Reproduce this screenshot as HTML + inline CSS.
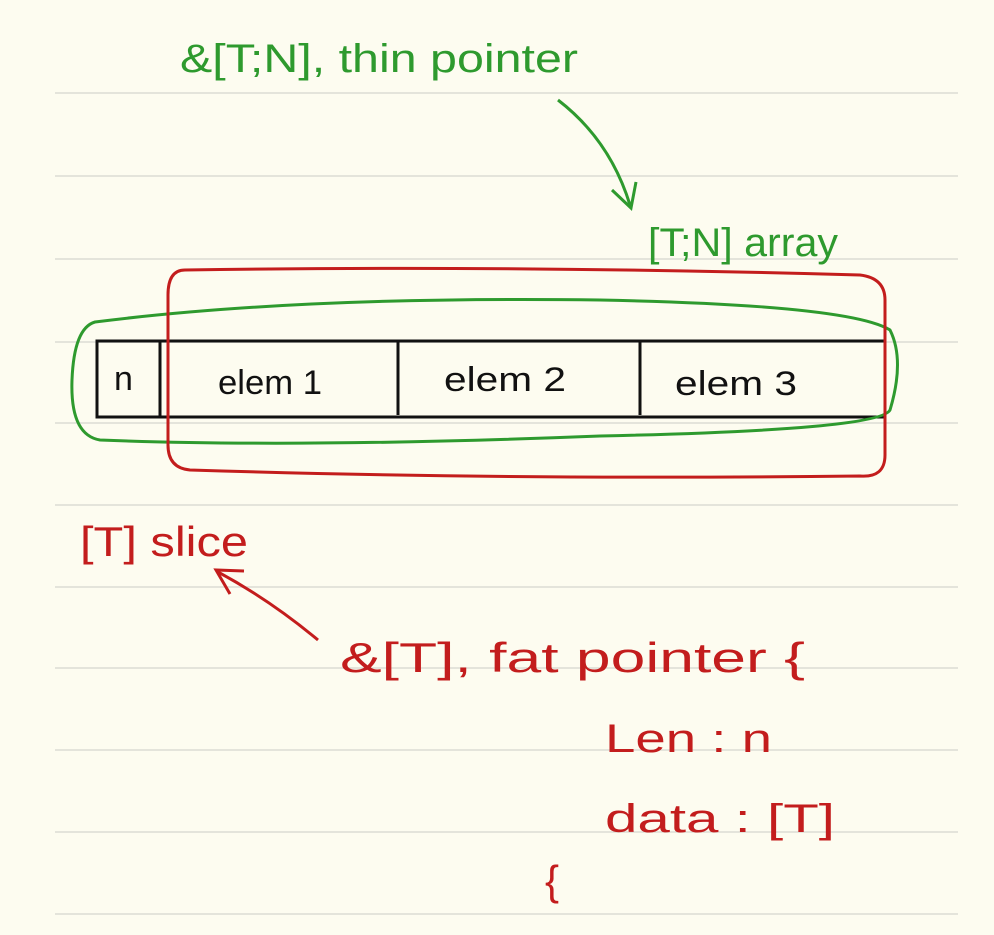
<!DOCTYPE html>
<html><head><meta charset="utf-8"><style>
html,body{margin:0;padding:0;background:#fdfcf0;}
svg{display:block;}
text{font-family:"Liberation Sans",sans-serif;}
</style></head><body>
<svg width="994" height="935" viewBox="0 0 994 935" xmlns="http://www.w3.org/2000/svg">
<rect width="994" height="935" fill="#fdfcf0"/>
<g stroke="#dcdcd4" stroke-width="1.5">
<line x1="55" y1="93" x2="958" y2="93"/>
<line x1="55" y1="176" x2="958" y2="176"/>
<line x1="55" y1="259" x2="958" y2="259"/>
<line x1="55" y1="342" x2="958" y2="342"/>
<line x1="55" y1="423" x2="958" y2="423"/>
<line x1="55" y1="505" x2="958" y2="505"/>
<line x1="55" y1="587" x2="958" y2="587"/>
<line x1="55" y1="668" x2="958" y2="668"/>
<line x1="55" y1="750" x2="958" y2="750"/>
<line x1="55" y1="832" x2="958" y2="832"/>
<line x1="55" y1="914" x2="958" y2="914"/>
</g>
<g stroke="#111" stroke-width="3" fill="none">
<rect x="97" y="341" width="788" height="76"/>
<line x1="160" y1="341" x2="160" y2="417"/>
<line x1="398" y1="341" x2="398" y2="415"/>
<line x1="640" y1="341" x2="640" y2="415"/>
</g>
<g font-size="34" fill="#111">
<text x="114" y="390">n</text>
<text x="218" y="394" textLength="104" lengthAdjust="spacingAndGlyphs">elem 1</text>
<text x="444" y="391" textLength="122" lengthAdjust="spacingAndGlyphs">elem 2</text>
<text x="675" y="395" textLength="122" lengthAdjust="spacingAndGlyphs">elem 3</text>
</g>
<path d="M95 322 Q300 296 600 300 Q850 305 890 330 Q905 360 890 410 Q880 430 600 436 Q300 448 100 440 Q70 435 72 380 Q74 328 95 322 Z" fill="none" stroke="#2e9a2e" stroke-width="3"/>
<path d="M185 270 Q500 265 860 275 Q885 278 885 300 L885 455 Q885 478 860 476 Q500 480 190 470 Q168 468 168 445 L168 295 Q168 270 185 270 Z" fill="none" stroke="#c31d1d" stroke-width="3"/>
<g fill="#2e9a2e">
<text x="180" y="72" font-size="40" textLength="398" lengthAdjust="spacingAndGlyphs">&amp;[T;N], thin pointer</text>
<text x="648" y="256" font-size="40" textLength="190" lengthAdjust="spacingAndGlyphs">[T;N] array</text>
</g>
<path d="M558 100 Q610 140 630 205" fill="none" stroke="#2e9a2e" stroke-width="3"/>
<path d="M612 190 L631 208 L636 182" fill="none" stroke="#2e9a2e" stroke-width="3"/>
<g fill="#c31d1d">
<text x="80" y="556" font-size="42" textLength="168" lengthAdjust="spacingAndGlyphs">[T] slice</text>
<text x="340" y="672" font-size="42" textLength="465" lengthAdjust="spacingAndGlyphs">&amp;[T], fat pointer {</text>
<text x="605" y="752" font-size="40" textLength="167" lengthAdjust="spacingAndGlyphs">Len : n</text>
<text x="605" y="832" font-size="40" textLength="230" lengthAdjust="spacingAndGlyphs">data : [T]</text>
<text x="545" y="895" font-size="42">{</text>
</g>
<path d="M318 640 Q270 600 218 572" fill="none" stroke="#c31d1d" stroke-width="3"/>
<path d="M244 571 L216 570 L230 594" fill="none" stroke="#c31d1d" stroke-width="3"/>
</svg>
</body></html>
